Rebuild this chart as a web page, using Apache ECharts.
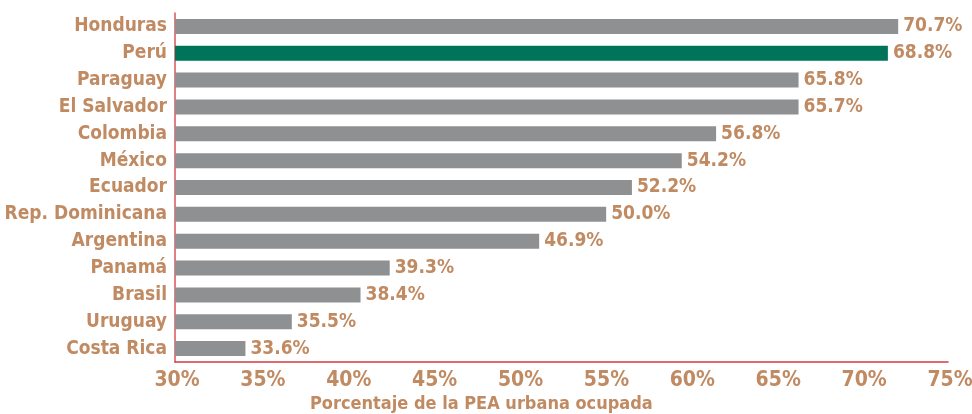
<!DOCTYPE html>
<html>
<head>
<meta charset="utf-8">
<script src="https://cdn.jsdelivr.net/npm/echarts@6/dist/echarts.min.js"></script>
<style>html,body{margin:0;padding:0;background:#fff}#c{width:972px;height:414px}</style>
</head>
<body>
<div id="c"></div>
<script>
const countries = ["Honduras","Perú","Paraguay","El Salvador","Colombia","México","Ecuador","Rep. Dominicana","Argentina","Panamá","Brasil","Uruguay","Costa Rica"];
// bar lengths as drawn in the reference
const barValues = [72.1, 71.5, 66.3, 66.3, 61.5, 59.5, 56.6, 55.1, 51.2, 42.5, 40.8, 36.8, 34.1];
// value labels as printed in the reference
const labelValues = ["70.7%","68.8%","65.8%","65.7%","56.8%","54.2%","52.2%","50.0%","46.9%","39.3%","38.4%","35.5%","33.6%"];
const xTicks = [30, 35, 40, 45, 50, 55, 60, 65, 70, 75];
const highlight = "Perú";

const FONT = "DejaVu Sans Condensed";
const TAN = "#c08a62";
const chart = echarts.init(document.getElementById('c'));
chart.setOption({
  animation: false,
  grid: {left: 175, right: 24, top: 13, bottom: 52, containLabel: false, outerBoundsMode: 'none'},
  xAxis: {
    type: 'value', min: xTicks[0], max: xTicks[xTicks.length-1], interval: 5,
    axisLine: {show: true, lineStyle: {color: '#d43a46', width: 1.5}},
    axisTick: {show: false}, splitLine: {show: false},
    axisLabel: {color: TAN, fontFamily: FONT, fontWeight: 'bold', fontSize: 21, margin: 8,
      padding: [0, 0, 0, 4],
      formatter: v => v + '%'}
  },
  yAxis: {
    type: 'category', data: countries, inverse: true,
    axisLine: {show: true, lineStyle: {color: '#d9545c', width: 1.5}},
    axisTick: {show: false},
    axisLabel: {color: TAN, fontFamily: FONT, fontWeight: 'bold', fontSize: 19, margin: 8}
  },
  graphic: [{
    type: 'text', left: 310, top: 395,
    style: {text: 'Porcentaje de la PEA urbana ocupada', fill: TAN,
      font: 'bold 18px "DejaVu Sans Condensed"'}
  }],
  series: [{
    type: 'bar', barWidth: 15,
    data: barValues.map((v, i) => ({
      value: v,
      itemStyle: {color: countries[i] === highlight ? '#00745a' : '#8f9092'}
    })),
    label: {show: true, position: 'right', distance: 5, color: TAN,
      fontFamily: FONT, fontWeight: 'bold', fontSize: 19,
      formatter: p => labelValues[p.dataIndex]}
  }]
});
</script>
</body>
</html>
